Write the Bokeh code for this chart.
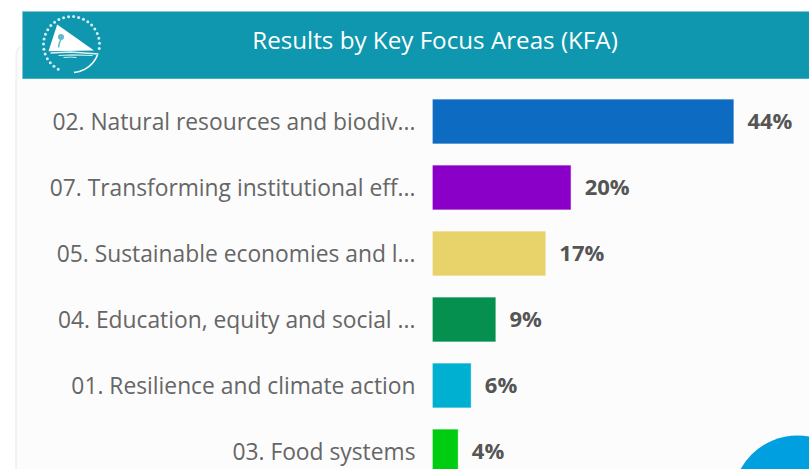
import numpy as np
from bokeh.plotting import figure
from bokeh.layouts import column
from bokeh.models import Range1d, FixedTicker, ColumnDataSource
from bokeh.core.properties import value
from bokeh.embed import file_html
from bokeh.resources import INLINE

title = "Results by Key Focus Areas (KFA)"
categories = ["02. Natural resources and biodiv...", "07. Transforming institutional eff...",
              "05. Sustainable economies and l...", "04. Education, equity and social ...",
              "01. Resilience and climate action", "03. Food systems"]
values = [44.0, 20.2, 16.5, 9.2, 5.6, 3.7]
labels = ["44%", "20%", "17%", "9%", "6%", "4%"]
colors = ["#0e6bc2", "#8b00c8", "#e8d26a", "#069050", "#00b0d0", "#00cc11"]

FONT = "Open Sans"
BG = "#fcfcfc"
TEAL = "#0e97ae"
W = 809

# ---------- header band (axes in page pixels) ----------
h = figure(width=W, height=79, x_range=Range1d(0, 809), y_range=Range1d(79, 0),
           output_backend="svg", toolbar_location=None, min_border=0)
h.axis.visible = False
h.grid.visible = False
h.outline_line_color = None
h.background_fill_color = "#ffffff"
h.border_fill_color = "#ffffff"
h.quad(left=[16], right=[809], top=[47], bottom=[79], fill_color=BG, line_color=None)
h.line([16, 16, 18, 20], [79, 52, 48, 46], line_color="#f2f2f2", line_width=2)
h.quad(left=[22], right=[809], top=[11], bottom=[78.5], fill_color=TEAL, line_color="#7fc8d6", line_width=1)
# logo
ang = np.deg2rad(np.arange(-8, 252, 10.4))
h.scatter(71 + 28 * np.cos(ang), 44 - 28 * np.sin(ang), size=3, marker="circle",
          fill_color="#d5eff3", line_color=None)
arc = np.deg2rad(np.linspace(-85, -22, 24))
h.line(71 + 28 * np.cos(arc), 44 - 28 * np.sin(arc), line_color="#ffffff", line_width=1.6)
h.patch([56.7, 93.5, 48], [24, 50, 50.7], fill_color="#ffffff", line_color=None)
h.line([50, 70, 98], [52.5, 51.5, 53.5], line_color="#dff3f6", line_width=1.3)
h.line([58, 72, 92], [55, 54.3, 55], line_color="#cfeef2", line_width=1.2)
h.line([63, 70, 76], [57, 56.6, 57], line_color="#cfeef2", line_width=1)
# palm
h.line([58, 59, 61], [47, 42, 38], line_color="#5fb9c9", line_width=1.5)
h.scatter([60.5], [36.5], size=6, marker="circle", fill_color="#5fb9c9", line_color=None)
h.text([434.5], [38.5], text=[title], text_color="#ffffff", text_font=value(FONT), text_font_size="24.2px",
       text_align="center", text_baseline="middle")

# ---------- bar chart ----------
rows = list(range(len(categories)))
PX = 6.84  # pixels per percent
p = figure(width=W, height=390, output_backend="svg", toolbar_location=None,
           x_range=Range1d(0, (809 - 432) / PX), y_range=Range1d(5.273, -0.636),
           min_border_left=432, min_border_right=0, min_border_top=0, min_border_bottom=0)
p.xaxis.visible = False
p.grid.visible = False
p.outline_line_color = None
p.background_fill_color = BG
p.border_fill_color = None
# card edge at left, painted behind the transparent axis area
p.styles = {"background": "linear-gradient(90deg, #ffffff 15px, #f2f2f2 15px, #f2f2f2 17px, #fcfcfc 17px)"}

ax = p.yaxis[0]
ax.ticker = FixedTicker(ticks=rows)
ax.major_label_overrides = dict(zip(rows, categories))
ax.axis_line_color = None
ax.major_tick_line_color = None
ax.minor_tick_line_color = None
ax.major_tick_out = 0
ax.major_tick_in = 0
ax.major_label_standoff = 17
ax.major_label_text_font = FONT
ax.major_label_text_font_size = "22.8px"
ax.major_label_text_color = "#666666"

src = ColumnDataSource(dict(y=rows, v=values, c=colors, t=labels))
p.hbar(y="y", right="v", left=0, height=44 / 66, fill_color="c", line_color="c", line_alpha=0.3,
       line_width=1, source=src)
p.text(x="v", y="y", text="t", x_offset=14, y_offset=-1, text_color="#555555", text_font=value(FONT),
       text_font_style="bold", text_font_size="22px", text_align="left", text_baseline="middle", source=src)
p.scatter([(797 - 432) / PX], [(500 - 121) / 66], size=130, marker="circle", fill_color="#009fdf", line_color=None)

page = column(column(h), column(p), spacing=0)
open("out.html", "w").write(file_html(page, INLINE))
